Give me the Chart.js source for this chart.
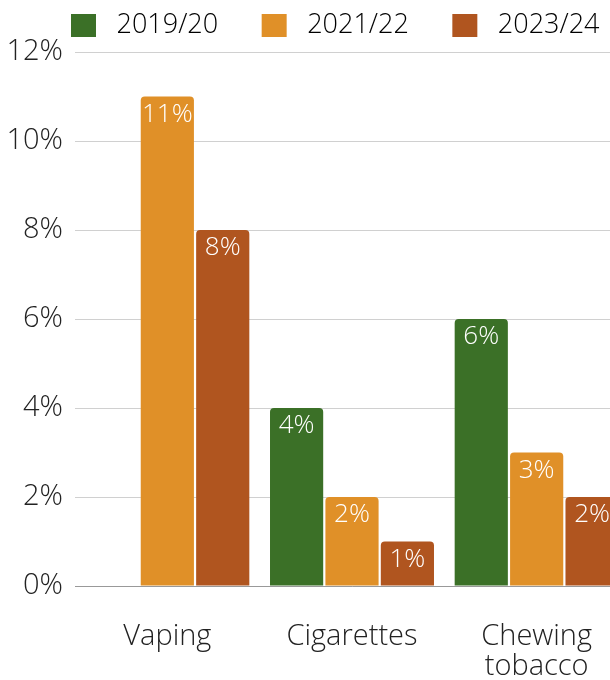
<!DOCTYPE html>
<html>
<head>
<meta charset="utf-8">
<script src="https://cdn.jsdelivr.net/npm/chart.js@4.4.0/dist/chart.umd.min.js"></script>
<style>
  html, body { margin: 0; padding: 0; background: #fff; overflow: hidden; }
  #wrap { position: relative; width: 702px; height: 680px; }
</style>
</head>
<body>
<div id="wrap"><canvas id="usageChart"></canvas></div>
<script>
const categories = ["Vaping", "Cigarettes", ["Chewing", "tobacco"]];
const years = ["2019/20", "2021/22", "2023/24"];
const share1920 = [null, 4, 6];
const share2122 = [11, 2, 3];
const share2324 = [8, 1, 2];
const yTicks = [0, 2, 4, 6, 8, 10, 12];

const FONT = "'Open Sans', 'Noto Sans', sans-serif";
const colors = ["#3b7027", "#e09028", "#b0551f"];

// white value labels just inside the top of each bar
const barValues = {
  id: "barValues",
  afterDatasetsDraw(chart) {
    const ctx = chart.ctx;
    ctx.save();
    ctx.fillStyle = "#ffffff";
    ctx.font = "300 26px " + FONT;
    ctx.textAlign = "center";
    ctx.textBaseline = "middle";
    chart.data.datasets.forEach((ds, i) => {
      chart.getDatasetMeta(i).data.forEach((bar, j) => {
        const v = ds.data[j];
        if (v == null) return;
        ctx.fillText(v + "%", bar.x, bar.y + 18);
      });
    });
    ctx.restore();
  }
};

// keep the legend band a fixed height so the plot starts right under it
const legendHeight = {
  id: "legendHeight",
  afterInit(chart) {
    const legend = chart.legend;
    if (!legend) return;
    const fit = legend.fit.bind(legend);
    legend.fit = function () {
      fit();
      this.height = 52;
    };
  }
};

new Chart(document.getElementById("usageChart"), {
  type: "bar",
  data: {
    labels: categories,
    datasets: [
      { label: years[0], data: share1920, backgroundColor: colors[0] },
      { label: years[1], data: share2122, backgroundColor: colors[1] },
      { label: years[2], data: share2324, backgroundColor: colors[2] }
    ]
  },
  options: {
    responsive: true,
    maintainAspectRatio: false,
    animation: false,
    layout: { padding: 0 },
    datasets: {
      bar: {
        categoryPercentage: 0.9,
        barPercentage: 0.96,
        borderRadius: { topLeft: 4, topRight: 4 },
        borderSkipped: "bottom"
      }
    },
    plugins: {
      tooltip: { enabled: false },
      legend: {
        position: "top",
        labels: {
          boxWidth: 25,
          boxHeight: 23,
          padding: 12,
          color: "#1f5ba5",
          font: { family: FONT, size: 27, weight: "300" },
          generateLabels(chart) {
            return chart.data.datasets.map((ds, i) => ({
              text: " " + ds.label + "\u2003\u2009",
              fillStyle: ds.backgroundColor,
              strokeStyle: ds.backgroundColor,
              lineWidth: 0,
              hidden: false,
              datasetIndex: i
            }));
          }
        }
      }
    },
    scales: {
      x: {
        afterFit(scale) { scale.height = 94; },
        grid: { display: false },
        border: { display: true, color: "#999999", width: 1 },
        ticks: {
          color: "#222222",
          padding: 28,
          maxRotation: 0,
          autoSkip: false,
          font: { family: FONT, size: 29, weight: "300", lineHeight: 1.03 }
        }
      },
      y: {
        min: 0,
        max: 12,
        afterBuildTicks(scale) {
          scale.ticks = yTicks.map(v => ({ value: v }));
        },
        afterFit(scale) { scale.width = 75; },
        grid: { color: "#d0d0d0", drawTicks: false },
        border: { display: false },
        ticks: {
          padding: 12,
          color: "#222222",
          font: { family: FONT, size: 29, weight: "300" },
          callback: v => v + "%"
        }
      },
      right: {
        position: "right",
        display: true,
        afterFit(scale) { scale.width = 73; },
        grid: { display: false },
        border: { display: false },
        ticks: { display: false }
      }
    }
  },
  plugins: [barValues, legendHeight]
});
</script>
</body>
</html>
